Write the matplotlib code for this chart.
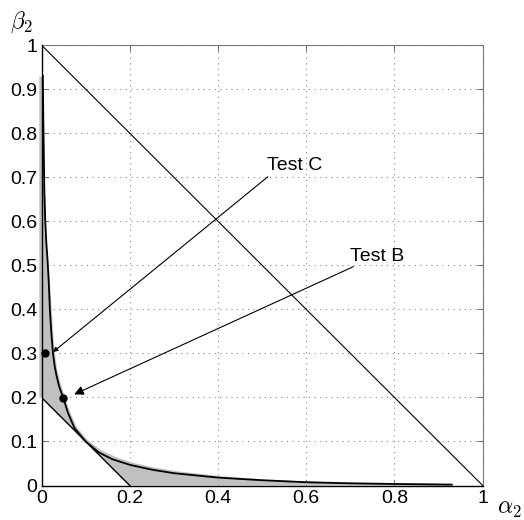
import matplotlib
matplotlib.use("Agg")
import matplotlib.pyplot as plt

plt.rcParams['font.family'] = ['Liberation Sans', 'DejaVu Sans']
plt.rcParams['mathtext.fontset'] = 'cm'

# black trade-off curve (alpha_2, beta_2)
alpha_curve = [0.003, 0.0045, 0.0064, 0.0085, 0.011, 0.0138, 0.0165, 0.019, 0.022, 0.026,
               0.03, 0.034, 0.04, 0.049, 0.06, 0.075, 0.1, 0.13, 0.16, 0.2,
               0.25, 0.3, 0.4, 0.5, 0.6, 0.7, 0.8, 0.93]
beta_curve = [0.93, 0.80, 0.67, 0.60, 0.55, 0.51, 0.46, 0.40, 0.35, 0.30,
              0.27, 0.25, 0.225, 0.20, 0.165, 0.13, 0.10, 0.075, 0.06, 0.047,
              0.036, 0.028, 0.018, 0.012, 0.0075, 0.005, 0.0035, 0.002]

# outer edge of the grey region
gray_alpha = [0.004, 0.006, 0.0078, 0.011, 0.014, 0.018, 0.023, 0.029, 0.036, 0.044,
              0.053, 0.064, 0.079, 0.104, 0.135, 0.17, 0.21, 0.26, 0.31, 0.41,
              0.5, 0.6, 0.7, 0.8, 0.926, 0.926]
gray_beta = [0.928, 0.80, 0.67, 0.58, 0.53, 0.48, 0.40, 0.31, 0.26, 0.23,
             0.20, 0.168, 0.134, 0.104, 0.08, 0.064, 0.051, 0.040, 0.032, 0.021,
             0.014, 0.009, 0.0065, 0.005, 0.004, 0.0]
# inner edge: axis and the line alpha+beta=0.2
inner_alpha = [0.2, 0.0, -0.005, -0.005]
inner_beta = [0.0, 0.2, 0.2, 0.928]

diag_a = [0, 1]
diag_b = [1, 0]
low_a = [0, 0.2]
low_b = [0.2, 0]

tests = ["Test C", "Test B"]
test_pts_a = [0.008, 0.049]
test_pts_b = [0.30, 0.199]
arrow_tip_a = [0.026, 0.074]
arrow_tip_b = [0.303, 0.207]
arrow_from_a = [0.513, 0.707]
arrow_from_b = [0.701, 0.497]
label_a = [0.512, 0.70]
label_b = [0.716, 0.51]

xticks = [0, 0.2, 0.4, 0.6, 0.8, 1]
xlabels = ["0", "0.2", "0.4", "0.6", "0.8", "1"]
yticks = [0, 0.1, 0.2, 0.3, 0.4, 0.5, 0.6, 0.7, 0.8, 0.9, 1]
ylabels = ["0", "0.1", "0.2", "0.3", "0.4", "0.5", "0.6", "0.7", "0.8", "0.9", "1"]

fig = plt.figure(figsize=(5.24, 5.20), dpi=100)
ax = fig.add_axes([0.0792, 0.0663, 0.842, 0.847])

ax.fill(gray_alpha + inner_alpha, gray_beta + inner_beta, color='#c0c0c0',
        lw=0, zorder=1, clip_on=False)
ax.plot(alpha_curve, beta_curve, color='black', lw=1.3, zorder=3)
ax.plot(diag_a, diag_b, color='black', lw=0.8, zorder=3)
ax.plot(low_a, low_b, color='black', lw=1.0, zorder=3)

ax.plot(test_pts_a, test_pts_b, 'o', color='black', ms=5, zorder=4, clip_on=False)
for i in range(len(tests)):
    ax.annotate("", xy=(arrow_tip_a[i], arrow_tip_b[i]),
                xytext=(arrow_from_a[i], arrow_from_b[i]),
                arrowprops=dict(arrowstyle='-|>', color='black', lw=0.8,
                                mutation_scale=14 if i == 1 else 7,
                                shrinkA=0, shrinkB=0), zorder=4)
    ax.text(label_a[i], label_b[i], tests[i], fontsize=14, ha='left', va='baseline')

ax.set_xlim(0, 1)
ax.set_ylim(0, 1)
ax.set_xticks(xticks)
ax.set_xticklabels(xlabels)
ax.set_yticks(yticks)
ax.set_yticklabels(ylabels)
ax.tick_params(direction='in', length=4, width=0.6, labelsize=14, pad=3,
               top=True, right=True, colors='#555555', labelcolor='black')
ax.set_axisbelow(True)
ax.grid(True, linestyle=(0, (1, 4)), color='#888888', lw=0.8)
for side in ['left', 'bottom']:
    ax.spines[side].set_color('black')
    ax.spines[side].set_linewidth(1.0)
    ax.spines[side].set_zorder(5)
for side in ['top', 'right']:
    ax.spines[side].set_color('#777777')
    ax.spines[side].set_linewidth(0.8)

fig.text(10 / 524, 1 - 28 / 520, r'$\beta_2$', fontsize=17)
fig.text(497 / 524, 1 - 514 / 520, r'$\alpha_2$', fontsize=17)

fig.savefig("out.png", dpi=100)
